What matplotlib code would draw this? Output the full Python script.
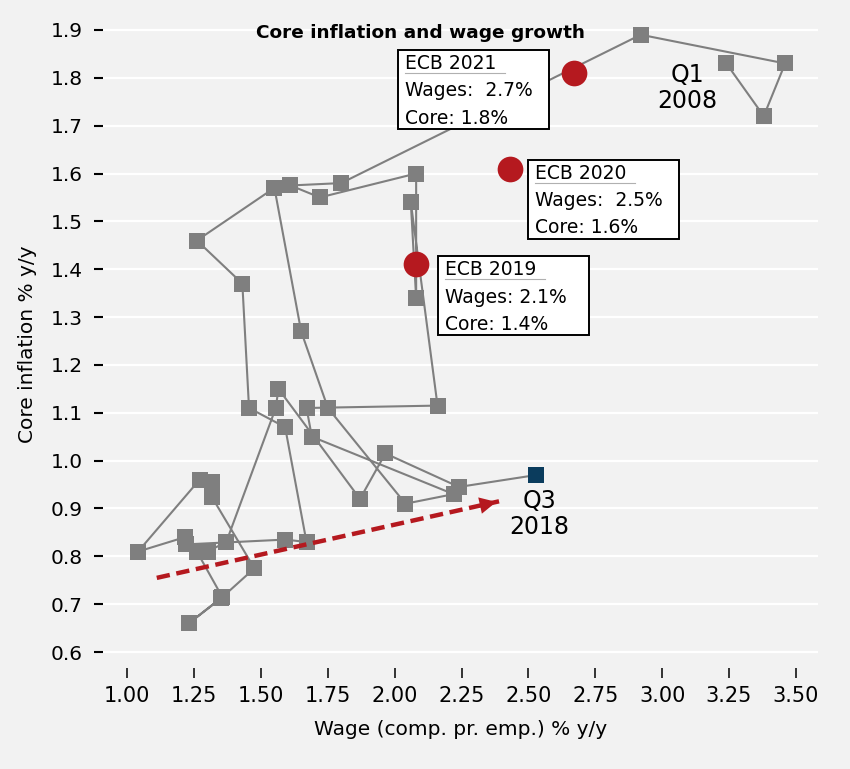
import matplotlib.pyplot as plt
from matplotlib.ticker import MultipleLocator, FormatStrFormatter
from matplotlib.patches import Rectangle
from matplotlib.lines import Line2D
from matplotlib.transforms import IdentityTransform

# Euro area: wage growth (comp. per employee) vs core inflation, Q1 2008 -> Q3 2018 (path order)
wage = [3.24, 3.38, 3.46, 2.92, 1.80, 1.61, 1.72, 2.08, 2.08, 2.06,
        2.16, 1.67, 1.69, 2.22, 2.04, 1.75, 1.65, 1.55, 1.26, 1.43,
        1.455, 1.59, 1.67, 1.59, 1.22, 1.215, 1.04, 1.27, 1.315, 1.315,
        1.475, 1.35, 1.23, 1.355, 1.26, 1.30, 1.37, 1.555, 1.565, 1.87,
        1.965, 2.24, 2.53]
core = [1.83, 1.72, 1.83, 1.89, 1.58, 1.575, 1.55, 1.60, 1.34, 1.54,
        1.115, 1.11, 1.05, 0.93, 0.91, 1.11, 1.27, 1.57, 1.46, 1.37,
        1.11, 1.07, 0.83, 0.835, 0.825, 0.84, 0.81, 0.96, 0.955, 0.925,
        0.775, 0.712, 0.66, 0.715, 0.81, 0.81, 0.83, 1.11, 1.15, 0.92,
        1.015, 0.945, 0.97]

# ECB staff projections
ecb_years = ["ECB 2019", "ECB 2020", "ECB 2021"]
ecb_wage = [2.08, 2.43, 2.67]
ecb_core = [1.41, 1.61, 1.81]
ecb_wage_txt = ["Wages: 2.1%", "Wages:  2.5%", "Wages:  2.7%"]
ecb_core_txt = ["Core: 1.4%", "Core: 1.6%", "Core: 1.8%"]
# label box: offset of lower left corner from the dot, in pixels (x right, y up)
ecb_box_offsets = [(22, -71), (18, -70), (-176, -56)]

# hand drawn trend arrow
trend_wage = [1.11, 2.39]
trend_core = [0.755, 0.915]

GRAY = "#7f7f7f"
RED = "#b5191f"
NAVY = "#0b3c5d"
BG = "#f2f2f2"

plt.rcParams["font.family"] = ["DejaVu Sans"]

fig = plt.figure(figsize=(8.5, 7.69), dpi=100, facecolor=BG)
ax = fig.add_axes([0.1212, 0.1313, 0.8412, 0.8422])
ax.set_facecolor(BG)

ax.set_xlim(0.909, 3.583)
ax.set_ylim(0.5666, 1.92)

ax.plot(wage[:-1], core[:-1], color=GRAY, lw=1.5, marker="s", ms=11,
        mfc=GRAY, mec=GRAY, mew=0, zorder=3)
ax.plot(wage[-2:], core[-2:], color=GRAY, lw=1.5, zorder=2)
ax.plot(wage[-1], core[-1], marker="s", ms=11, color=NAVY, mew=0, zorder=4)

ax.plot(ecb_wage, ecb_core, "o", color=RED, ms=18.5, mew=0, zorder=5)

# label boxes with fixed pixel size
box_w, box_h = 151, 79
for i in range(len(ecb_years)):
    px, py = ax.transData.transform((ecb_wage[i], ecb_core[i]))
    dx, dy = ecb_box_offsets[i]
    x0, y0 = px + dx, py + dy
    fig.patches.append(Rectangle((x0, y0), box_w, box_h, transform=IdentityTransform(),
                                 fc="white", ec="black", lw=1.4, zorder=6))
    txt = ecb_years[i] + "\n" + ecb_wage_txt[i] + "\n" + ecb_core_txt[i]
    fig.text(x0 + 7, y0 + box_h - 4, txt, transform=IdentityTransform(),
             ha="left", va="top", fontsize=13.5, linespacing=1.55, zorder=7)
    fig.lines.append(Line2D([x0 + 7, x0 + 107], [y0 + box_h - 23, y0 + box_h - 23],
                            transform=IdentityTransform(), color="#b0b0b0", lw=0.8, zorder=7))

# trend arrow
ax.plot(trend_wage, trend_core, color=RED, lw=3.2, dashes=(3, 1.5), zorder=6)
tip_w = trend_wage[0] + 0.96 * (trend_wage[1] - trend_wage[0])
tip_c = trend_core[0] + 0.96 * (trend_core[1] - trend_core[0])
ax.annotate("", xy=(trend_wage[1], trend_core[1]), xytext=(tip_w, tip_c),
            arrowprops=dict(arrowstyle="-|>", color=RED, lw=0, mutation_scale=30),
            zorder=6)

ax.annotate("Q1\n2008", xy=(wage[0], core[0]), xytext=(-39, -25),
            textcoords="offset pixels", ha="center", va="center",
            fontsize=17, linespacing=1.1)
ax.annotate("Q3\n2018", xy=(wage[-1], core[-1]), xytext=(3, -39),
            textcoords="offset pixels", ha="center", va="center",
            fontsize=17, linespacing=1.1)

fig.text(0.495, 0.957, "Core inflation and wage growth", ha="center", va="center",
         fontsize=13.3, fontweight="bold")

ax.xaxis.set_major_locator(MultipleLocator(0.25))
ax.yaxis.set_major_locator(MultipleLocator(0.1))
ax.xaxis.set_major_formatter(FormatStrFormatter("%.2f"))
ax.yaxis.set_major_formatter(FormatStrFormatter("%.1f"))
ax.tick_params(axis="x", direction="out", length=7, width=1.1, pad=6, labelsize=15)
ax.tick_params(axis="y", direction="out", length=6.5, width=1.5, pad=8, labelsize=14.5)
for s in ax.spines.values():
    s.set_visible(False)
ax.yaxis.grid(True, color="white", lw=1.6)
ax.set_axisbelow(True)

ax.set_xlabel("Wage (comp. pr. emp.) % y/y", fontsize=14.5, labelpad=10)
ax.set_ylabel("Core inflation % y/y", fontsize=14.5, labelpad=10)

fig.savefig("out.png", dpi=100, facecolor=BG)
